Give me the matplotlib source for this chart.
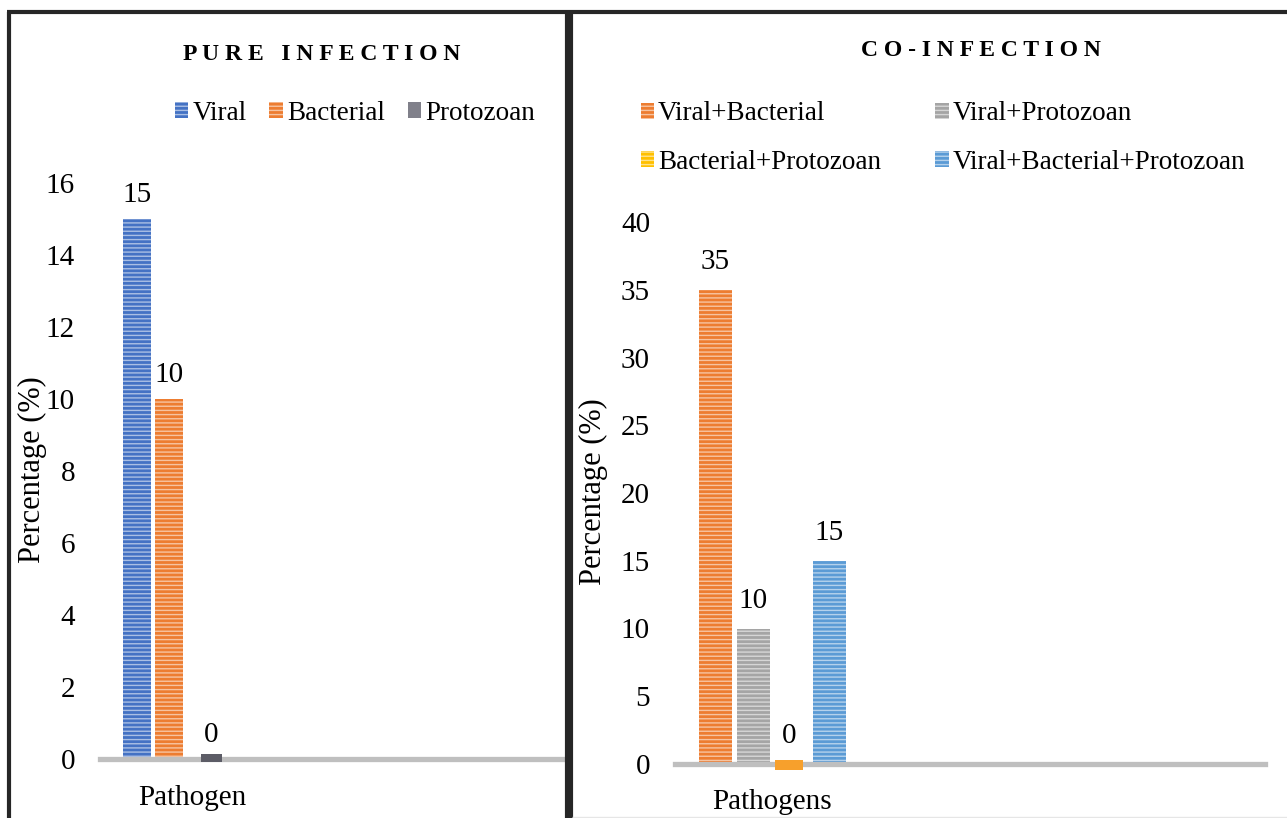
import matplotlib.pyplot as plt
from matplotlib.lines import Line2D

plt.rcParams['font.family'] = ['Liberation Serif', 'DejaVu Serif']
plt.rcParams['hatch.linewidth'] = 1.0

W, H = 1287, 818

# data
pure_series = ['Viral', 'Bacterial', 'Protozoan']
pure_values = [15, 10, 0]
pure_colors = ['#4472c4', '#ed7d31', '#80808a']
pure_category = 'Pathogen'

co_series = ['Viral+Bacterial', 'Viral+Protozoan', 'Bacterial+Protozoan',
             'Viral+Bacterial+Protozoan']
co_values = [35, 10, 0, 15]
co_colors = ['#ed7d31', '#a5a5a5', '#ffc000', '#5b9bd5']
co_category = 'Pathogens'

FS = 21
LFS = 19.5


def fig_box(l, r, top, bottom):
    return [l / W, 1 - bottom / H, (r - l) / W, (bottom - top) / H]


fig = plt.figure(figsize=(W / 100, H / 100), dpi=100)


def draw_panel(ax, series, values, colors, offsets, widths, stub, ylim,
               yticks, category, label_off, stub_colors, xpad):
    ax.set_ylim(*ylim)
    handles = []
    for name, v, c, off, w, sc in zip(series, values, colors, offsets, widths, stub_colors):
        if v > 0:
            b = ax.bar(off, v, width=w, color=c, edgecolor=(1, 1, 1, 0.55),
                       linewidth=0, hatch='----', zorder=2, label=name)
            handles.append(b)
        else:
            # zero value: Excel draws a small stub on the axis
            ax.bar(off, stub[1], bottom=stub[0], width=w, color=sc,
                   linewidth=0, zorder=4, clip_on=False)
            hatch = '----' if name != 'Protozoan' else None
            b = ax.bar(off, 0, width=w, color=c, edgecolor=(1, 1, 1, 0.55),
                       linewidth=0, hatch=hatch, label=name)
            handles.append(b)
        ax.annotate(f'{v:g}', (off, v), xytext=(0, label_off),
                    textcoords='offset points', ha='center', va='baseline',
                    fontsize=FS)
    ax.axhline(0, color='#bfbfbf', lw=3.8, zorder=3, clip_on=False)
    for s in ax.spines.values():
        s.set_visible(False)
    ax.set_yticks(yticks)
    ax.tick_params(axis='y', length=0, pad=18, labelsize=FS)
    ax.set_xticks([0])
    ax.set_xticklabels([category])
    ax.tick_params(axis='x', length=0, pad=xpad, labelsize=FS)
    return handles


# left panel: pure infection
ax1 = fig.add_axes(fig_box(100, 562, 183, 759))
ax1.set_xlim(-0.92, 3.70)
h1 = draw_panel(ax1, pure_series, pure_values, pure_colors,
                [-0.55, -0.23, 0.19], [0.28, 0.28, 0.21], (-0.08, 0.22),
                (0, 16), range(0, 17, 2), pure_category, 12.5,
                [None, None, '#5c5c66'], 19)

# right panel: co-infection
ax2 = fig.add_axes(fig_box(675, 1265, 222, 764))
ax2.set_xlim(-0.97, 4.93)
h2 = draw_panel(ax2, co_series, co_values, co_colors,
                [-0.57, -0.19, 0.17, 0.575], [0.33, 0.33, 0.28, 0.33],
                (-0.45, 0.75), (0, 40), range(0, 41, 5), co_category, 15,
                [None, None, '#f7a02c', None], 18)

fig.text(32 / W, 1 - 470 / H, 'Percentage (%)', rotation=90, ha='center',
         va='center', fontsize=22)
fig.text(593 / W, 1 - 492 / H, 'Percentage (%)', rotation=90, ha='center',
         va='center', fontsize=22)

fig.text(322 / W, 1 - 54 / H, ' '.join('PURE') + '   ' + ' '.join('INFECTION'),
         ha='center', va='center', fontsize=17, fontweight='bold')
fig.text(981 / W, 1 - 51 / H, ' '.join('CO-INFECTION'),
         ha='center', va='center', fontsize=17, fontweight='bold')

fig.legend(h1, pure_series, loc='center', bbox_to_anchor=(355 / W, 1 - 113 / H),
           ncol=3, frameon=False, fontsize=LFS, handlelength=0.5,
           handleheight=0.5, handletextpad=0.15, columnspacing=0.85,
           borderpad=0)
order = [0, 2, 1, 3]
fig.legend([h2[i] for i in order], [co_series[i] for i in order], loc='center',
           bbox_to_anchor=(943 / W, 1 - 138 / H), ncol=2, frameon=False,
           fontsize=LFS, handlelength=0.5, handleheight=0.5,
           handletextpad=0.15, columnspacing=2.0, labelspacing=0.85,
           borderpad=0)

# panel borders
bc = '#262626'
lw = 3
def px_line(x0, y0, x1, y1, color=bc, width=lw):
    fig.add_artist(Line2D([x0 / W, x1 / W], [1 - y0 / H, 1 - y1 / H],
                          color=color, lw=width, solid_capstyle='butt'))

px_line(9, 11.5, 9, 818)
px_line(7, 11.5, 1287, 11.5)
px_line(566.5, 11.5, 566.5, 818)
px_line(571, 11.5, 571, 818)
px_line(572, 816.5, 1287, 816.5, color='#e6e6e6', width=1)

fig.savefig('out.png', dpi=100)
